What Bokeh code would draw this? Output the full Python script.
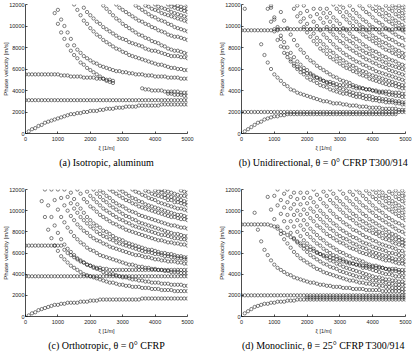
from bokeh.plotting import figure
from bokeh.layouts import column, row
from bokeh.models import FixedTicker
from bokeh.embed import file_html
from bokeh.resources import INLINE

XI_STEP = 100   # wavenumber sampling step [1/m]
V_UNIT = 100    # phase velocities below are listed in units of 100 m/s

xi_ticks = [0, 1000, 2000, 3000, 4000, 5000]
v_ticks = [0, 2000, 4000, 6000, 8000, 10000, 12000]

captions = [
    "(a) Isotropic, aluminum",
    "(b) Unidirectional, \u03b8 = 0\u00b0 CFRP T300/914",
    "(c) Orthotropic, \u03b8 = 0\u00b0 CFRP",
    "(d) Monoclinic, \u03b8 = 25\u00b0 CFRP T300/914",
]

# (a) isotropic aluminium: wavenumber index of the first sample of each branch
iso_start = [1, 0, 0, 36, 44, 9, 10, 15, 18, 24, 28, 34, 37, 40, 44, 46, 50]
iso_speed = [
    [2, 4, 5, 7, 8, 10, 11, 12, 13, 14, 15, 16, 17, 18, 18, 19, 19, 20, 20, 21, 21, 21, 22, 22, 23, 23, 23, 24, 24, 24,
     25, 25, 25, 25, 26, 26, 26, 26, 26, 26, 26, 27, 27, 27, 27, 27, 27, 27, 27, 27],
    [31] * 51,
    [55] * 11 + [54, 54, 54, 53, 53, 53, 53, 52, 52, 52, 52, 51, 51, 51, 50, 50, 49],
    [42, 41, 41, 40, 40, 40, 40, 39, 39, 39, 39, 39, 38, 38, 38],
    [37, 37, 36, 36, 36, 35, 35],
    [112, 102, 94, 88, 82, 77, 73, 70, 66, 64, 61, 59, 57, 55, 53, 51, 49, 48, 47],
    [115, 106, 100, 94, 88, 82, 78, 75, 72, 70, 68, 66, 65, 63, 62, 61, 60, 59, 58, 58, 57, 57, 56, 56, 55, 55, 55,
     54, 54, 54, 53, 53, 53, 53, 52, 52, 52, 52, 51, 51, 51],
    [120, 115, 110, 105, 102, 98, 95, 92, 90, 87, 85, 83, 81, 79, 78, 76, 75, 73, 72, 71, 70, 69, 68, 67, 66, 65, 64,
     64, 63, 62, 61, 61, 60, 60, 59, 59],
    [117, 113, 110, 107, 104, 102, 99, 97, 95, 93, 91, 89, 88, 87, 85, 84, 83, 82, 81, 79, 78, 77, 77, 76, 75, 74, 73,
     72, 72, 72, 71, 71, 70],
    [119, 116, 113, 110, 107, 105, 102, 100, 98, 96, 94, 92, 91, 89, 88, 86, 85, 84, 82, 81, 79, 78, 77, 77, 76, 75, 74],
    [120, 117, 115, 113, 111, 109, 107, 105, 104, 102, 101, 99, 98, 96, 95, 94, 92, 91, 90, 90, 89, 88, 87],
    [119, 117, 115, 113, 111, 109, 108, 106, 105, 104, 102, 101, 99, 98, 97, 96, 95],
    [119, 118, 116, 115, 114, 112, 111, 110, 109, 108, 107, 106, 105, 104],
    [120, 118, 117, 116, 115, 113, 112, 111, 110, 109, 108],
    [120, 118, 117, 116, 115, 114, 113],
    [120, 119, 118, 117, 116],
    [120],
]

# (b) unidirectional CFRP, theta = 0 deg
uni_start = [1, 0, 0, 1, 6, 9, 8, 9, 12, 16, 17, 19, 22, 24, 26, 28, 30, 33, 36, 39, 41, 44, 46, 48, 50]
uni_speed = [
    [2, 4, 6, 8, 10, 11, 13, 14, 15, 16, 16, 17, 17, 18] + [18] * 33,
    [20] * 51,
    [96] * 10 + [97] * 41,
    [116],
    [83, 73, 66, 60, 55, 52, 49, 46, 44, 41, 40, 38, 37, 36, 35, 34, 33, 32, 31, 30, 30, 29, 28, 28, 28, 27, 27, 26,
     26, 26, 25, 25, 25, 24, 24, 24, 24, 23, 23, 23, 23, 23, 22, 22, 22],
    [117, 106, 96, 88, 80, 74, 69, 65, 62, 60, 58, 56, 55, 53, 52, 51, 49, 48, 48, 47, 46, 45, 45, 44, 44, 43, 42, 42,
     42, 41, 41, 40, 40, 39, 39, 39, 39, 38, 38, 38, 37, 37],
    [116, 104, 95, 87, 81, 75, 71, 67, 63, 60, 57, 55, 52, 50, 49, 47, 45, 44, 43, 41, 40, 39, 38, 37, 37, 36, 35, 34,
     34, 33, 32, 32, 31, 31, 30, 30, 29, 29, 29, 28, 28, 27, 27],
    [119, 108, 99, 91, 85, 80, 75, 71, 67, 64, 61, 59, 56, 54, 52, 50, 49, 47, 46, 45, 43, 42, 41, 40, 39, 38, 37, 37,
     36, 35, 35, 34, 33, 33, 32, 32, 31, 31, 30, 30, 29, 29],
    [113, 105, 98, 92, 87, 82, 78, 75, 71, 68, 66, 63, 61, 59, 57, 55, 53, 52, 50, 49, 48, 47, 45, 44, 43, 42, 41, 41,
     40, 39, 38, 38, 37, 36, 36, 35, 35, 34, 34],
    [116, 109, 104, 99, 94, 90, 86, 83, 79, 77, 74, 71, 69, 67, 65, 63, 61, 60, 58, 57, 55, 54, 53, 51, 50, 49, 48, 47,
     46, 45, 45, 44, 43, 42, 42],
    [119, 112, 107, 102, 97, 93, 89, 86, 83, 80, 77, 75, 72, 70, 68, 66, 64, 63, 61, 59, 58, 57, 55, 54, 53, 52, 51, 50,
     49, 48, 47, 46, 45, 45],
    [119, 114, 109, 104, 100, 96, 92, 89, 86, 83, 80, 78, 75, 73, 71, 69, 67, 66, 64, 63, 61, 60, 58, 57, 56, 55, 54,
     53, 52, 51, 50, 49],
    [116, 111, 107, 103, 99, 95, 92, 89, 86, 84, 81, 79, 77, 75, 73, 71, 69, 68, 66, 65, 63, 62, 61, 59, 58, 57, 56, 55,
     54],
    [116, 112, 108, 104, 100, 97, 94, 91, 88, 86, 84, 81, 79, 77, 75, 74, 72, 70, 69, 67, 66, 64, 63, 62, 61, 60, 59],
    [116, 112, 108, 105, 102, 98, 96, 93, 90, 88, 86, 83, 81, 79, 77, 76, 74, 72, 71, 69, 68, 67, 65, 64, 63],
    [120, 116, 113, 109, 106, 103, 100, 97, 95, 92, 90, 88, 86, 84, 82, 80, 78, 77, 75, 74, 72, 71, 70],
    [120, 117, 113, 110, 107, 104, 101, 99, 96, 94, 91, 89, 87, 85, 84, 82, 80, 78, 77, 75, 74],
    [119, 115, 112, 109, 106, 104, 101, 99, 97, 94, 92, 90, 88, 87, 85, 83, 82, 80],
    [119, 116, 113, 111, 108, 105, 103, 101, 98, 96, 94, 92, 90, 89, 87],
    [119, 116, 114, 111, 109, 106, 104, 102, 100, 98, 96, 94],
    [120, 117, 115, 112, 110, 107, 105, 103, 101, 99],
    [119, 116, 114, 111, 109, 107, 105],
    [119, 117, 114, 112, 110],
    [119, 117, 115],
    [120],
]

# (c) orthotropic CFRP, theta = 0 deg
ortho_start = [1, 0, 0, 5, 6, 8, 10, 12, 14, 16, 19, 21, 23, 26, 29, 33, 37, 40, 42, 48]
ortho_speed = [
    [1, 3, 4, 6, 7, 8, 9, 10, 11, 11, 12, 12, 13, 13, 13, 13, 14, 14, 14, 15, 15, 15, 16] + [16] * 12 + [17] * 15,
    [38] * 51,
    [67] * 12 + [63, 60, 58, 56, 54, 52, 51, 49, 48, 47, 46, 46, 45, 45] + [44] * 25,
    [109, 94, 82, 74, 67, 62, 57, 54, 51, 48, 46, 44, 42, 40, 39, 38, 37, 36, 35, 34, 33, 32, 32, 31, 30, 30, 29, 29,
     28, 28, 28, 27, 27, 27, 26, 26, 26, 25, 25, 25, 25, 24, 24, 24, 24, 24],
    [120, 105, 94, 86, 79, 73, 68, 64, 61, 58, 55, 53, 51, 49, 48, 46, 45, 44, 42, 41, 40, 40, 39, 38, 37, 37, 36, 35,
     35, 34, 34, 33, 33, 32, 32, 32, 31, 31, 31, 30, 30, 30, 30, 29, 29],
    [120, 110, 101, 94, 89, 84, 80, 76, 73, 70, 68, 65, 63, 62, 60, 58, 57, 56, 55, 54, 53, 52, 51, 50, 49, 49, 48, 47,
     47, 46, 46, 45, 45, 44, 44, 43, 43, 42, 42, 42, 41, 41, 41],
    [120, 112, 105, 100, 95, 91, 87, 84, 81, 79, 76, 74, 72, 71, 69, 68, 66, 65, 64, 63, 62, 61, 60, 59, 58, 58, 57, 56,
     56, 55, 54, 54, 53, 53, 52, 52, 52, 51, 51, 50, 50],
    [120, 113, 107, 102, 98, 94, 91, 88, 85, 83, 80, 78, 76, 75, 73, 72, 70, 69, 68, 67, 66, 65, 64, 63, 62, 61, 61, 60,
     59, 59, 58, 57, 57, 56, 56, 55, 55, 54, 54],
    [117, 111, 106, 102, 98, 94, 91, 88, 86, 84, 81, 80, 78, 76, 74, 73, 72, 70, 69, 68, 67, 66, 65, 64, 63, 63, 62, 61,
     60, 60, 59, 59, 58, 57, 57, 56, 56],
    [120, 116, 111, 108, 104, 102, 99, 96, 94, 92, 90, 88, 87, 85, 84, 82, 81, 80, 79, 78, 77, 76, 75, 74, 73, 72, 72,
     71, 70, 70, 69, 69, 68, 68, 67],
    [118, 114, 111, 108, 105, 102, 100, 98, 96, 94, 92, 91, 89, 88, 86, 85, 84, 83, 82, 81, 80, 79, 78, 77, 77, 76, 75,
     74, 74, 73, 73, 72],
    [120, 116, 113, 110, 108, 105, 103, 101, 99, 97, 95, 94, 92, 91, 89, 88, 87, 86, 85, 84, 83, 82, 81, 80, 79, 78, 78,
     77, 76, 76],
    [119, 117, 114, 112, 109, 107, 105, 104, 102, 100, 99, 98, 96, 95, 94, 93, 92, 91, 90, 89, 88, 87, 86, 86, 85, 84,
     84, 83],
    [120, 118, 116, 114, 112, 110, 109, 107, 106, 104, 103, 102, 101, 100, 99, 98, 97, 96, 95, 94, 94, 93, 92, 92, 91],
    [120, 118, 116, 114, 112, 111, 109, 108, 106, 105, 104, 103, 102, 101, 100, 99, 98, 97, 96, 96, 95, 94],
    [120, 118, 117, 115, 114, 112, 111, 110, 108, 107, 106, 105, 104, 103, 102, 102, 101, 100],
    [119, 118, 116, 115, 114, 113, 112, 110, 110, 108, 108, 107, 106, 105],
    [119, 118, 117, 115, 114, 113, 112, 111, 110, 109, 108],
    [120, 119, 118, 117, 116, 115, 114, 114, 113],
    [119, 118, 117],
]

# (d) monoclinic CFRP, theta = 25 deg
mono_start = [1, 0, 0, 20, 4, 8, 10, 11, 13, 14, 16, 18, 20, 22, 25, 27, 30, 33, 35, 38, 40, 42, 45, 47, 49]
mono_speed = [
    [3, 5, 7, 9, 10, 11, 12, 12, 13, 13, 14, 14, 14, 15, 15, 15, 16] + [16] * 33,
    [20] * 51,
    [87] * 9 + [86, 85, 83, 81, 79, 77, 75, 73, 71, 69, 67, 65, 63, 62, 60, 59, 58, 57, 56, 55, 54, 53, 52, 51, 50, 50,
                49, 49, 48, 48, 47, 47, 46, 46, 46, 45, 45, 45, 45, 44, 44, 44],
    [18] * 31,
    [98, 82, 71, 63, 58, 53, 49, 46, 44, 42, 40, 39, 37, 36, 35, 34, 33, 32, 32, 31, 30, 30, 29, 29, 28, 28, 28, 27, 27,
     27, 26, 26, 26, 26, 25, 25, 25, 25, 25, 24, 24, 24, 24, 24, 24, 23, 23],
    [113, 101, 92, 85, 78, 73, 69, 65, 61, 58, 55, 53, 51, 49, 47, 45, 44, 42, 41, 40, 39, 38, 37, 36, 35, 34, 34, 33,
     32, 32, 31, 31, 30, 30, 29, 29, 28, 28, 27, 27, 27, 26, 26],
    [114, 105, 97, 90, 84, 79, 74, 70, 67, 64, 61, 58, 56, 54, 52, 50, 49, 47, 46, 45, 43, 42, 41, 40, 39, 38, 37, 37,
     36, 35, 34, 34, 33, 33, 32, 31, 31, 30, 30, 30, 29],
    [120, 110, 103, 96, 90, 85, 80, 76, 72, 69, 66, 64, 61, 59, 57, 55, 53, 52, 50, 49, 47, 46, 45, 44, 43, 42, 41, 40,
     39, 38, 37, 37, 36, 35, 35, 34, 34, 33, 33, 32],
    [116, 108, 102, 96, 91, 86, 82, 78, 75, 72, 69, 67, 64, 62, 60, 58, 57, 55, 54, 52, 51, 50, 49, 48, 46, 46, 45, 44,
     43, 42, 41, 40, 40, 39, 38, 38, 37, 37],
    [120, 113, 106, 100, 96, 91, 87, 83, 80, 77, 74, 72, 69, 67, 65, 63, 61, 60, 58, 57, 55, 54, 53, 52, 50, 49, 48, 48,
     47, 46, 45, 44, 43, 43, 42, 41, 41],
    [117, 111, 106, 101, 97, 93, 90, 86, 84, 81, 78, 76, 74, 72, 70, 69, 67, 65, 64, 63, 61, 60, 59, 58, 57, 56, 55, 54,
     53, 53, 52, 51, 50, 50, 49],
    [117, 112, 107, 102, 99, 95, 92, 89, 86, 83, 81, 78, 76, 74, 73, 71, 69, 68, 66, 65, 64, 62, 61, 60, 59, 58, 57, 56,
     55, 54, 54, 53, 52],
    [117, 112, 108, 104, 100, 97, 94, 91, 88, 86, 83, 81, 79, 77, 75, 74, 72, 70, 69, 68, 66, 65, 64, 63, 62, 60, 60,
     59, 58, 57, 56],
    [120, 115, 111, 107, 104, 100, 97, 94, 92, 89, 87, 85, 82, 81, 79, 77, 75, 74, 72, 71, 69, 68, 67, 66, 65, 64, 62,
     62, 60],
    [118, 114, 110, 107, 104, 101, 98, 95, 93, 91, 88, 86, 84, 82, 81, 79, 78, 76, 74, 73, 72, 70, 69, 68, 67, 66],
    [120, 116, 112, 109, 106, 103, 100, 97, 95, 92, 90, 88, 86, 84, 82, 80, 79, 77, 76, 74, 73, 72, 70, 69],
    [120, 116, 112, 109, 106, 103, 100, 97, 95, 92, 90, 88, 86, 84, 82, 80, 78, 77, 75, 73, 72],
    [118, 115, 111, 108, 105, 103, 100, 98, 95, 93, 91, 89, 87, 85, 83, 81, 80, 78],
    [120, 117, 114, 111, 108, 105, 102, 100, 98, 95, 93, 91, 89, 88, 86, 84],
    [119, 116, 113, 111, 108, 105, 103, 101, 99, 97, 95, 93, 91],
    [120, 117, 114, 112, 109, 107, 104, 102, 100, 98, 96],
    [120, 117, 114, 112, 109, 107, 105, 103, 101],
    [118, 116, 113, 111, 109, 107],
    [119, 116, 114, 112],
    [119, 116],
]

TICK_FONT = "Liberation Sans"
CAPTION_FONT = "Liberation Serif"


def branch_points(start, speed):
    """Flatten the sampled branches into wavenumber / phase velocity pairs."""
    xi, vel = [], []
    for k0, values in zip(start, speed):
        for i, v in enumerate(values):
            xi.append((k0 + i) * XI_STEP)
            vel.append(v * V_UNIT)
    return xi, vel


def panel(start, speed, caption, left_col, top_row):
    p = figure(
        width=207, height=176,
        x_range=(0, 5000), y_range=(0, 12000),
        output_backend="svg", toolbar_location=None,
        min_border_left=23 if left_col else 34,
        min_border_right=20 if left_col else 9,
        min_border_top=4 if top_row else 13,
        min_border_bottom=43 if top_row else 34,
        title_location="below",
        background_fill_color="white", border_fill_color="white",
    )
    xi, vel = branch_points(start, speed)
    p.scatter(xi, vel, marker="circle", size=3.3, fill_color=None,
              line_color="#1a1a1a", line_width=0.55)

    p.xaxis.ticker = FixedTicker(ticks=xi_ticks)
    p.yaxis.ticker = FixedTicker(ticks=v_ticks)
    p.xaxis.axis_label = "\u03be [1/m]"
    p.yaxis.axis_label = "Phase velocity [m/s]"
    for ax in (p.xaxis[0], p.yaxis[0]):
        ax.axis_line_color = "black"
        ax.axis_line_width = 0.7
        ax.major_tick_line_color = "black"
        ax.major_tick_line_width = 0.7
        ax.major_tick_in = 2
        ax.major_tick_out = 0
        ax.minor_tick_line_color = None
        ax.major_label_text_font = TICK_FONT
        ax.major_label_text_font_size = "5.5px"
        ax.major_label_text_color = "#222222"
        ax.axis_label_text_font = TICK_FONT
        ax.axis_label_text_font_style = "normal"
        ax.axis_label_text_color = "#222222"
    p.xaxis.major_label_standoff = 3
    p.xaxis.axis_label_standoff = 1
    p.xaxis.axis_label_text_font_size = "5.5px"
    # the rotated label sits just beside the four-digit tick labels
    p.yaxis.major_label_standoff = 1
    p.yaxis.axis_label_standoff = -3
    p.yaxis.axis_label_text_font_size = "6px"

    p.xgrid.visible = False
    p.ygrid.visible = False
    p.outline_line_color = None

    p.title.text = caption
    p.title.align = "center"
    p.title.offset = -5
    p.title.standoff = 3
    p.title.text_font = CAPTION_FONT
    p.title.text_font_size = "10px"
    p.title.text_font_style = "normal"
    p.title.text_color = "black"
    return p


pa = panel(iso_start, iso_speed, captions[0], True, True)
pb = panel(uni_start, uni_speed, captions[1], False, True)
pc = panel(ortho_start, ortho_speed, captions[2], True, False)
pd = panel(mono_start, mono_speed, captions[3], False, False)

layout = column(row(pa, pb), row(pc, pd))

with open("out.html", "w") as fh:
    fh.write(file_html(layout, INLINE, title="Phase velocity dispersion"))
